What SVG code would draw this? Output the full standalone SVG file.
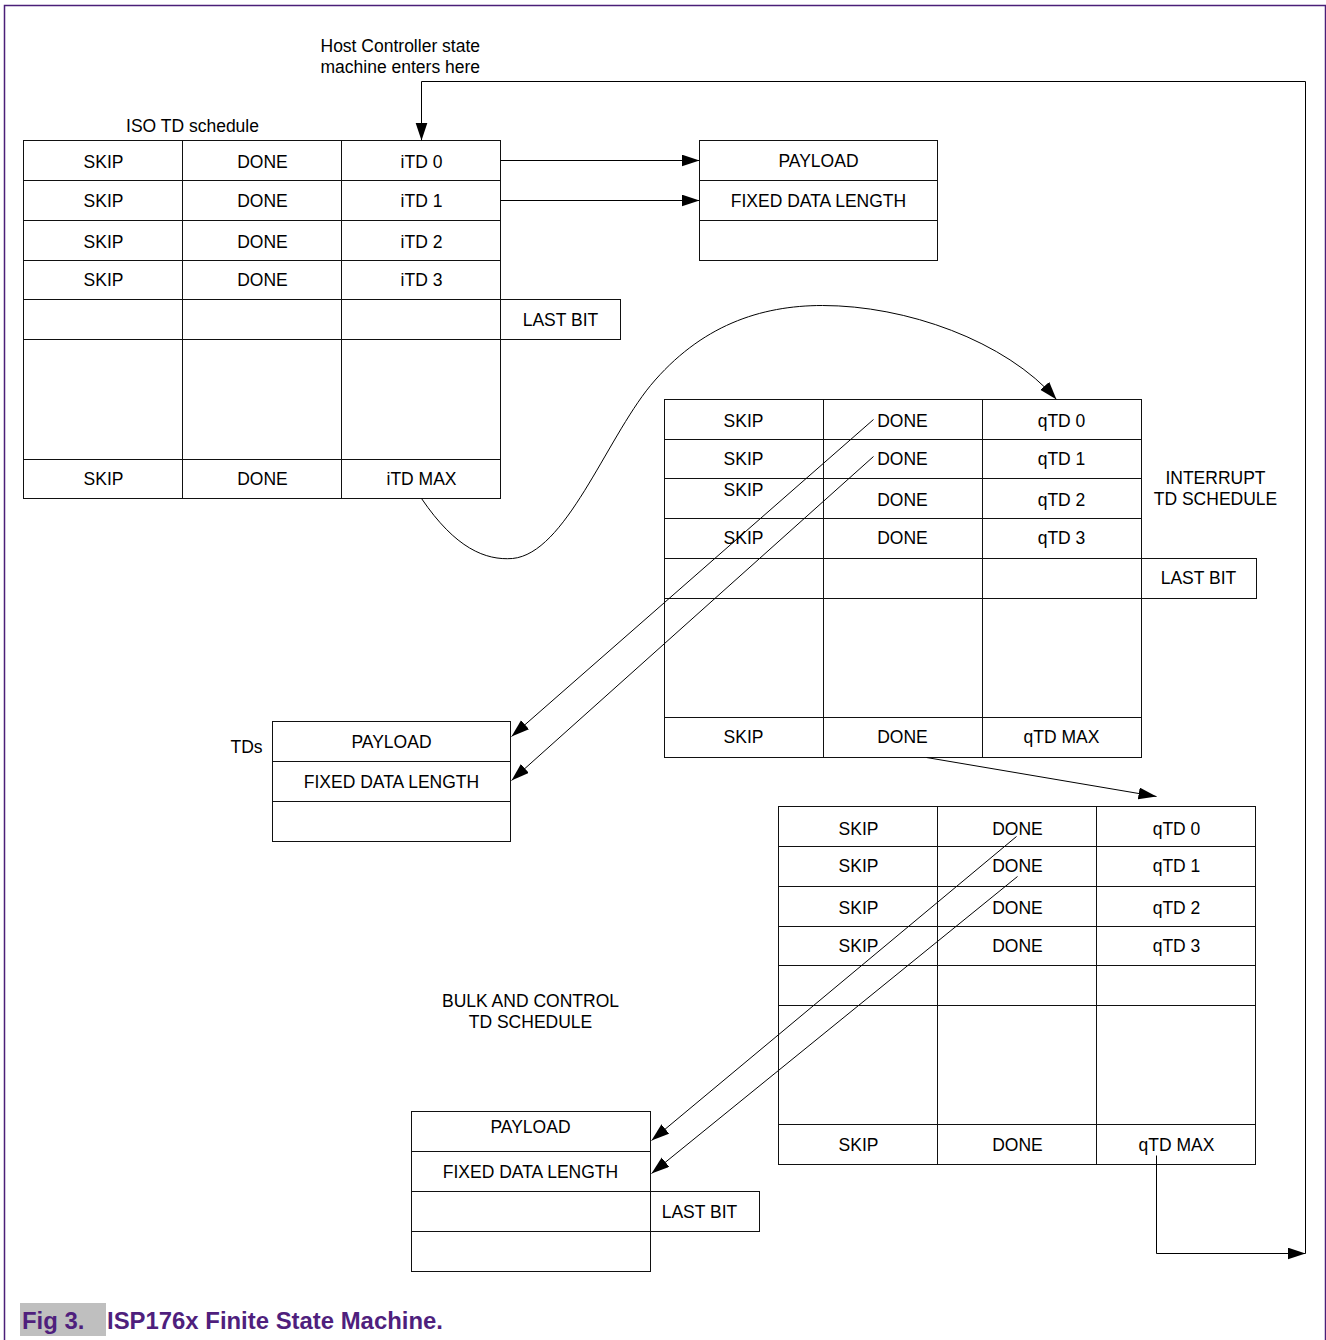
<svg xmlns="http://www.w3.org/2000/svg" width="1326" height="1340" viewBox="0 0 1326 1340">
<style>
.b{fill:#fff;stroke:#111;stroke-width:1}
.l{stroke:#111;stroke-width:1;fill:none}
.t{font-family:"Liberation Sans",Arial,sans-serif;font-size:17.5px;fill:#000;text-anchor:middle}
.s{text-anchor:start}
.c{stroke:#000;stroke-width:1;fill:none}
.cap{font-family:"Liberation Sans",Arial,sans-serif;font-size:23.9px;font-weight:bold;fill:#4f1f7d}
</style>
<defs>
<marker id="ah" markerUnits="userSpaceOnUse" markerWidth="19" markerHeight="13" refX="18" refY="6" orient="auto">
<path d="M0,0 L18,6 L0,12 z" fill="#000"/>
</marker>
</defs>
<rect width="1326" height="1340" fill="#fff"/>
<path d="M4.5,1340 V5.5 H1325.5 V1340" fill="none" stroke="#4a1f78" stroke-width="1.5"/>

<g transform="translate(0.5,0.5)">
<!-- ISO TD schedule -->
<g id="iso">
<rect class="b" x="23" y="140" width="477" height="358"/>
<path class="l" d="M23,180H500M23,220H500M23,260H500M23,299H500M23,339H500M23,459H500M182,140V498M341,140V498"/>
<rect class="b" x="500" y="299" width="120" height="40"/>
<text class="t" x="103" y="167">SKIP</text><text class="t" x="262" y="167">DONE</text><text class="t" x="421" y="167">iTD 0</text>
<text class="t" x="103" y="206">SKIP</text><text class="t" x="262" y="206">DONE</text><text class="t" x="421" y="206">iTD 1</text>
<text class="t" x="103" y="247">SKIP</text><text class="t" x="262" y="247">DONE</text><text class="t" x="421" y="247">iTD 2</text>
<text class="t" x="103" y="285">SKIP</text><text class="t" x="262" y="285">DONE</text><text class="t" x="421" y="285">iTD 3</text>
<text class="t" x="560" y="325">LAST BIT</text>
<text class="t" x="103" y="484">SKIP</text><text class="t" x="262" y="484">DONE</text><text class="t" x="421" y="484">iTD MAX</text>
</g>
<g id="iso-label"><text class="t" x="192" y="131">ISO TD schedule</text></g>
<g id="entry-label">
<text class="t s" x="320" y="51">Host Controller state</text>
<text class="t s" x="320" y="72">machine enters here</text>
</g>

<!-- top payload -->
<g id="iso-payload">
<rect class="b" x="699" y="140" width="238" height="120"/>
<path class="l" d="M699,180H937M699,220H937"/>
<text class="t" x="818" y="166">PAYLOAD</text>
<text class="t" x="818" y="206">FIXED DATA LENGTH</text>
</g>

<!-- interrupt -->
<g id="interrupt">
<rect class="b" x="664" y="399" width="477" height="358"/>
<path class="l" d="M664,439H1141M664,478H1141M664,518H1141M664,558H1141M664,598H1141M664,717H1141M823,399V757M982,399V757"/>
<rect class="b" x="1141" y="558" width="115" height="40"/>
<text class="t" x="743" y="426">SKIP</text><text class="t" x="902" y="426">DONE</text><text class="t" x="1061" y="426">qTD 0</text>
<text class="t" x="743" y="464">SKIP</text><text class="t" x="902" y="464">DONE</text><text class="t" x="1061" y="464">qTD 1</text>
<text class="t" x="743" y="495">SKIP</text><text class="t" x="902" y="505">DONE</text><text class="t" x="1061" y="505">qTD 2</text>
<text class="t" x="743" y="543">SKIP</text><text class="t" x="902" y="543">DONE</text><text class="t" x="1061" y="543">qTD 3</text>
<text class="t" x="1198" y="583">LAST BIT</text>
<text class="t" x="743" y="742">SKIP</text><text class="t" x="902" y="742">DONE</text><text class="t" x="1061" y="742">qTD MAX</text>
</g>
<g id="interrupt-label">
<text class="t" x="1215" y="483">INTERRUPT</text>
<text class="t" x="1215" y="504">TD SCHEDULE</text>
</g>

<!-- TDs -->
<g id="tds">
<rect class="b" x="272" y="721" width="238" height="120"/>
<path class="l" d="M272,761H510M272,801H510"/>
<text class="t" x="391" y="747">PAYLOAD</text>
<text class="t" x="391" y="787">FIXED DATA LENGTH</text>
</g>
<g id="tds-label"><text class="t" x="246" y="752">TDs</text></g>

<!-- bulk -->
<g id="bulk">
<rect class="b" x="778" y="806" width="477" height="358"/>
<path class="l" d="M778,846H1255M778,886H1255M778,926H1255M778,965H1255M778,1005H1255M778,1124H1255M937,806V1164M1096,806V1164"/>
<text class="t" x="858" y="834">SKIP</text><text class="t" x="1017" y="834">DONE</text><text class="t" x="1176" y="834">qTD 0</text>
<text class="t" x="858" y="871">SKIP</text><text class="t" x="1017" y="871">DONE</text><text class="t" x="1176" y="871">qTD 1</text>
<text class="t" x="858" y="913">SKIP</text><text class="t" x="1017" y="913">DONE</text><text class="t" x="1176" y="913">qTD 2</text>
<text class="t" x="858" y="951">SKIP</text><text class="t" x="1017" y="951">DONE</text><text class="t" x="1176" y="951">qTD 3</text>
<text class="t" x="858" y="1150">SKIP</text><text class="t" x="1017" y="1150">DONE</text><text class="t" x="1176" y="1150">qTD MAX</text>
</g>
<g id="bulk-label">
<text class="t" x="530" y="1006">BULK AND CONTROL</text>
<text class="t" x="530" y="1027">TD SCHEDULE</text>
</g>

<!-- bottom payload -->
<g id="bulk-payload">
<rect class="b" x="411" y="1111" width="239" height="160"/>
<path class="l" d="M411,1151H650M411,1191H650M411,1231H650"/>
<rect class="b" x="650" y="1191" width="109" height="40"/>
<text class="t" x="530" y="1132">PAYLOAD</text>
<text class="t" x="530" y="1177">FIXED DATA LENGTH</text>
<text class="t" x="699" y="1217">LAST BIT</text>
</g>

<!-- connectors -->
<g id="connectors">
<path class="c" d="M1305,1253V81H421V140" marker-end="url(#ah)"/>
<path class="c" d="M500,160H699" marker-end="url(#ah)"/>
<path class="c" d="M500,200H699" marker-end="url(#ah)"/>
<path class="c" d="M421,498C455,548 485,560 512,558C565,553 605,440 650,385C700,325 760,305 822,305C905,305 1005,340 1056,399" marker-end="url(#ah)"/>
<path class="c" d="M873,419L511,736" marker-end="url(#ah)"/>
<path class="c" d="M873,456L511,780" marker-end="url(#ah)"/>
<path class="c" d="M926,757L1156,796" marker-end="url(#ah)"/>
<path class="c" d="M1016,836L651,1140" marker-end="url(#ah)"/>
<path class="c" d="M1017,876L651,1173" marker-end="url(#ah)"/>
<path class="c" d="M1156,1155V1253H1305" marker-end="url(#ah)"/>
</g>
</g>

<g id="caption">
<rect x="20" y="1303" width="86" height="33" fill="#bfbfbf"/>
<text class="cap" x="22" y="1329">Fig 3.</text>
<text class="cap" x="107" y="1329">ISP176x Finite State Machine.</text>
</g>
</svg>
